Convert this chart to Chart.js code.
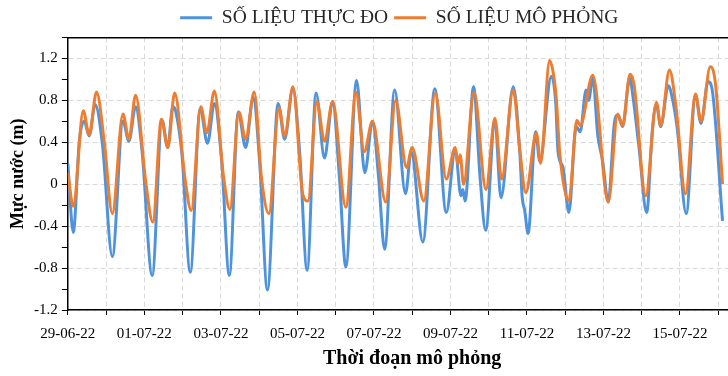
<!DOCTYPE html>
<html>
<head>
<meta charset="utf-8">
<script src="https://cdn.jsdelivr.net/npm/chart.js@4.4.1/dist/chart.umd.min.js"></script>
<style>
  html, body { margin: 0; padding: 0; background: #fff; overflow: hidden; }
  #wrap { width: 794px; height: 376px; }
</style>
</head>
<body>
<div id="wrap"><canvas id="chart"></canvas></div>
<script>
// hours since 29-06-22 00:00, water level in m
const obsHours = [0, 3.4, 7.2, 10.3, 13.4, 17.1, 21.7, 27.9, 34.6, 38.3, 42.5, 46.6, 52.9, 59.1, 62.7, 65.8, 67.6,
  71.6, 76.8, 83.0, 87.6, 91.9, 96.5, 101.3, 106.9, 111.5, 116.3, 120.4, 125.2, 131.9, 136.0, 141.2, 145.4,
  150.1, 155.7, 161.0, 166.1, 170.3, 174.4, 181.1, 186.3, 191.1, 194.8, 198.7, 205.0, 211.8, 215.4, 222.7,
  230.2, 237.4, 243.0, 246.6, 247.8, 249.2, 254.5, 258.6, 262.1, 267.9, 271.7, 279.4, 283.5, 285.0, 286.6,
  288.7, 293.5, 296.0, 303.3, 306.0, 307.5, 310.6, 314.3, 318.9, 321.4, 325.1, 326.7, 329.3, 332.4, 335.5,
  339.0, 342.8, 344.9, 348.0, 352.5, 354.2, 358.3, 363.1, 366.7, 369.2, 371.9, 376.7, 379.2, 382.3, 387.9,
  393.7, 397.2, 401.6, 404.1, 410.7];
const obsLevel = [0.20, -0.46, 0.41, 0.60, 0.46, 0.76, 0.38, -0.69, 0.60, 0.41, 0.74, 0.31, -0.87, 0.61, 0.35, 0.74, 0.70,
  0.28, -0.84, 0.72, 0.39, 0.77, 0.22, -0.87, 0.69, 0.35, 0.83, 0.19, -1.01, 0.77, 0.43, 0.91, 0.31,
  -0.82, 0.87, 0.25, 0.79, 0.08, -0.79, 0.99, 0.11, 0.60, 0.09, -0.62, 0.90, -0.09, 0.31, -0.55,
  0.91, -0.27, 0.33, -0.11, -0.05, -0.16, 0.93, 0.06, -0.44, 0.61, -0.13, 0.93, 0.31, -0.12, -0.25,
  -0.47, 0.50, 0.22, 1.03, 0.79, 0.31, 0.16, -0.27, 0.55, 0.50, 0.90, 0.80, 1.02, 0.47, 0.22,
  -0.17, 0.58, 0.66, 0.55, 1.02, 0.87, 0.35, -0.27, 0.52, 0.76, 0.55, 0.94, 0.82, 0.53, -0.28,
  0.85, 0.58, 0.98, 0.91, -0.35];

const simHours = [0, 3.4, 9.7, 13.4, 18.0, 22.8, 27.9, 34.6, 38.3, 42.5, 48.8, 53.3, 58.7, 62.7, 67.0,
  73.7, 77.4, 83.4, 87.2, 91.9, 97.6, 101.7, 107.3, 111.5, 116.9, 121.4, 126.1, 132.5, 136.0, 141.2,
  147.4, 150.6, 156.2, 161.0, 166.1, 174.4, 180.7, 185.9, 191.1, 199.4, 205.6, 212.5, 216.0, 223.3,
  230.5, 237.4, 243.0, 244.7, 246.1, 248.2, 254.8, 262.3, 267.9, 272.1, 279.4, 283.5, 287.3, 293.9,
  296.6, 302.2, 304.4, 306.4, 308.5, 314.3, 319.3, 321.4, 329.3, 339.0, 344.9, 348.0, 352.7, 355.2,
  362.5, 369.2, 371.9, 377.4, 381.4, 387.5, 393.7, 397.2, 403.0, 406.4, 410.7];
const simLevel = [0.11, -0.21, 0.70, 0.47, 0.88, 0.41, -0.28, 0.67, 0.43, 0.85, 0.03, -0.36, 0.62, 0.35, 0.87,
  0.03, -0.25, 0.74, 0.49, 0.89, 0.08, -0.24, 0.69, 0.43, 0.88, 0.07, -0.28, 0.73, 0.46, 0.93,
  -0.10, -0.16, 0.79, 0.41, 0.79, -0.22, 0.88, 0.31, 0.60, -0.17, 0.80, 0.16, 0.35, -0.16,
  0.87, 0.05, 0.35, 0.19, 0.28, 0.0, 0.88, -0.05, 0.63, 0.05, 0.90, 0.33, -0.08, 0.49,
  0.20, 1.18, 1.07, 0.82, 0.31, -0.16, 0.61, 0.56, 1.04, -0.17, 0.67, 0.56, 1.05, 0.95,
  -0.11, 0.78, 0.56, 1.09, 0.75, -0.09, 0.86, 0.60, 1.12, 0.94, 0.0];

const dateLabels = ['29-06-22', '01-07-22', '03-07-22', '05-07-22', '07-07-22', '09-07-22',
  '11-07-22', '13-07-22', '15-07-22', '17-07-22'];
const levelTicks = [-1.2, -0.8, -0.4, 0, 0.4, 0.8, 1.2];

const serif = "'Liberation Serif', 'Times New Roman', serif";

function majorLevel(v) {
  return levelTicks.find(t => Math.abs(t - v) < 1e-6);
}

new Chart(document.getElementById('chart'), {
  type: 'line',
  data: {
    datasets: [{
      label: 'SỐ LIỆU THỰC ĐO',
      data: obsHours.map((h, i) => ({ x: h, y: obsLevel[i] })),
      xAxisID: 'x',
      yAxisID: 'y',
      borderColor: '#4f93dc',
      backgroundColor: '#4f93dc',
      borderWidth: 3,
      pointRadius: 0,
      cubicInterpolationMode: 'monotone',
      order: 1
    }, {
      label: 'SỐ LIỆU MÔ PHỎNG',
      data: simHours.map((h, i) => ({ x: h, y: simLevel[i] })),
      xAxisID: 'x',
      yAxisID: 'y',
      borderColor: '#ed7d31',
      backgroundColor: '#ed7d31',
      borderWidth: 3,
      pointRadius: 0,
      cubicInterpolationMode: 'monotone',
      order: 0
    }]
  },
  options: {
    responsive: true,
    maintainAspectRatio: false,
    animation: false,
    layout: { padding: { left: 4.5, right: 0, top: 2, bottom: 11 } },
    plugins: {
      legend: {
        position: 'top',
        labels: {
          usePointStyle: true,
          pointStyle: 'line',
          pointStyleWidth: 32,
          color: '#262626',
          font: { family: serif, size: 19.5 },
          padding: 6,
          sort: (a, b) => a.datasetIndex - b.datasetIndex
        }
      },
      tooltip: { enabled: false }
    },
    scales: {
      x: {
        type: 'linear',
        min: 0,
        max: 432,
        border: { color: '#000', width: 1.5, dash: [5, 3] },
        grid: { color: '#d9d9d9', tickColor: '#000', tickLength: 5 },
        ticks: {
          stepSize: 24,
          autoSkip: false,
          maxRotation: 0,
          color: '#000',
          padding: 10,
          font: { family: serif, size: 15 },
          callback: v => (v % 48 === 0 ? dateLabels[v / 48] : '')
        },
        title: {
          display: true,
          text: 'Thời đoạn mô phỏng',
          color: '#000',
          font: { family: serif, size: 20, weight: 'bold', lineHeight: 0.6 },
          padding: { top: 0, bottom: 0 }
        }
      },
      y: {
        min: -1.2,
        max: 1.4,
        border: { color: '#000', width: 1.5, dash: [5, 3] },
        grid: {
          color: c => (majorLevel(c.tick.value) !== undefined ? '#d9d9d9' : 'rgba(0,0,0,0)'),
          tickColor: '#000',
          tickLength: 6
        },
        ticks: {
          stepSize: 0.2,
          autoSkip: false,
          color: '#000',
          padding: 4,
          font: { family: serif, size: 15 },
          callback: v => {
            const t = majorLevel(v);
            return t === undefined ? '' : String(t);
          }
        },
        title: {
          display: true,
          text: 'Mực nước (m)',
          color: '#000',
          font: { family: serif, size: 18, weight: 'bold' },
          padding: { top: 3, bottom: 1 }
        }
      },
      x2: {
        type: 'linear',
        position: 'top',
        grid: { display: false, drawTicks: false },
        ticks: { display: false },
        border: { color: '#000', width: 1.5 }
      },
      y2: {
        type: 'linear',
        position: 'right',
        grid: { display: false, drawTicks: false },
        ticks: { display: false },
        border: { display: false },
        afterFit: s => { s.width = 32; }
      }
    }
  }
});
</script>
</body>
</html>
